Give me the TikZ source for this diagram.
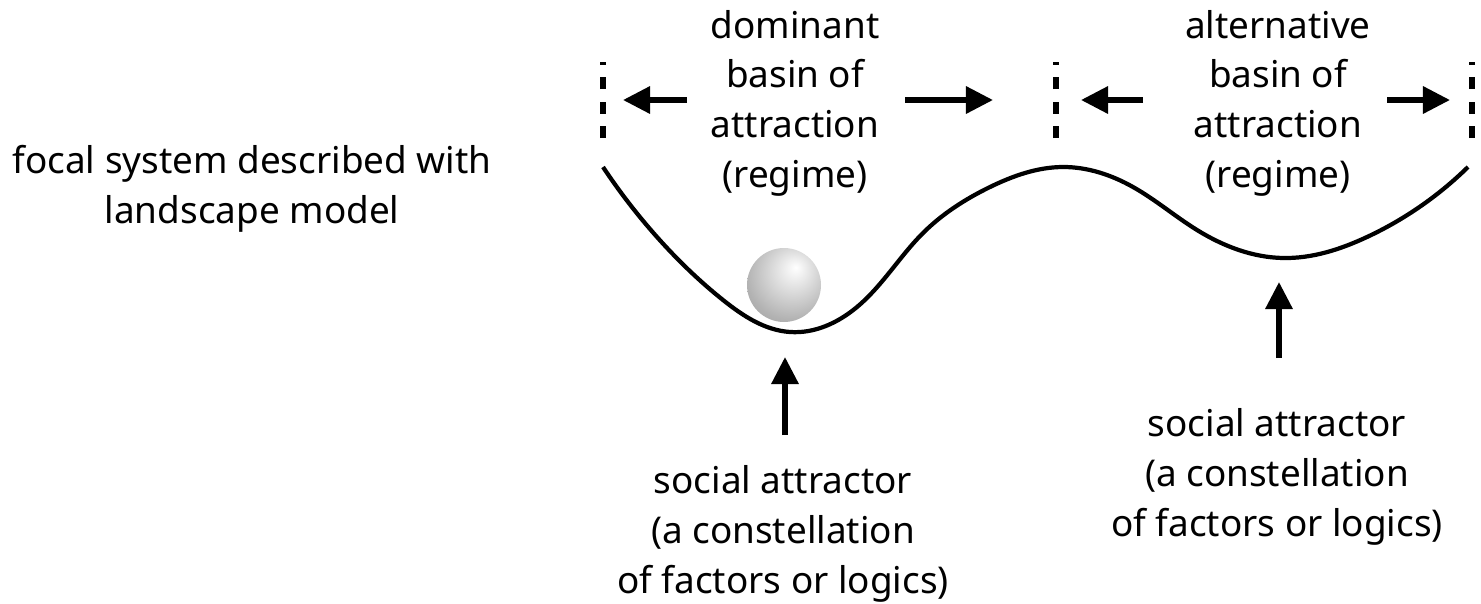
\documentclass[tikz,border=0pt]{standalone}
\usepackage{fontspec}
\setmainfont{Noto Sans}
\usetikzlibrary{arrows.meta,hobby}
\pgfdeclareradialshading{pebble}{\pgfpoint{8bp}{12bp}}{color(0bp)=(white); color(6bp)=(white!94!black); color(30bp)=(black!30); color(50bp)=(black!44); color(70bp)=(black!48)}
\tikzset{
  blurb/.style={align=center, inner sep=0pt, anchor=base, font=\fontsize{21}{28.2}\selectfont},
  push/.style={line width=3.1pt, -{Triangle[length=15.4pt,width=15pt]}},
  rim/.style={line width=3pt, dash pattern=on 6.8pt off 7.1pt},
  valley/.style={line width=2.4pt, use Hobby shortcut}
}
\begin{document}
\begin{tikzpicture}[x=0.02cm,y=-0.02cm]
\useasboundingbox (0,0) rectangle (1481,603);
\draw[valley] (603,167) .. (657,237) .. (723,300) .. (790,332) .. (857,307) .. (923,233) .. (990,187) .. (1063,167) .. (1133,187) .. (1197,230) .. (1283,258) .. (1367,237) .. (1468,167);
\node[circle, minimum size=1.48cm, inner sep=0pt, shading=pebble] (ball) at (784,285) {};
\coordinate (rimA1) at (603,138); \coordinate (rimA2) at (603,62);
\coordinate (rimB1) at (1056,138); \coordinate (rimB2) at (1056,62);
\coordinate (rimC1) at (1472,138); \coordinate (rimC2) at (1472,62);
\draw[rim] (rimA1)--(rimA2);
\draw[rim] (rimB1)--(rimB2);
\draw[rim] (rimC1)--(rimC2);
\node[blurb] (focal) at (252,223) {focal system described with\\landscape model};
\node[blurb] (dominant) at (795,187) {dominant\\basin of\\attraction\\(regime)};
\node[blurb] (alternative) at (1278,187) {alternative\\basin of\\attraction\\(regime)};
\node[blurb] (attractorL) at (783,593) {social attractor\\(a constellation\\of factors or logics)};
\node[blurb] (attractorR) at (1277,536) {social attractor\\(a constellation\\of factors or logics)};
\coordinate (dLtail) at (687,100); \coordinate (dLtip) at (623,100);
\coordinate (dRtail) at (905,100); \coordinate (dRtip) at (993,100);
\coordinate (aLtail) at (1143,100); \coordinate (aLtip) at (1081,100);
\coordinate (aRtail) at (1387,100); \coordinate (aRtip) at (1450,100);
\draw[push] (dLtail)--(dLtip);
\draw[push] (dRtail)--(dRtip);
\draw[push] (aLtail)--(aLtip);
\draw[push] (aRtail)--(aRtip);
\coordinate (uLtail) at (785,435); \coordinate (uLtip) at (785,357);
\coordinate (uRtail) at (1279,358); \coordinate (uRtip) at (1279,282);
\draw[push] (uLtail)--(uLtip);
\draw[push] (uRtail)--(uRtip);
\end{tikzpicture}
\end{document}
